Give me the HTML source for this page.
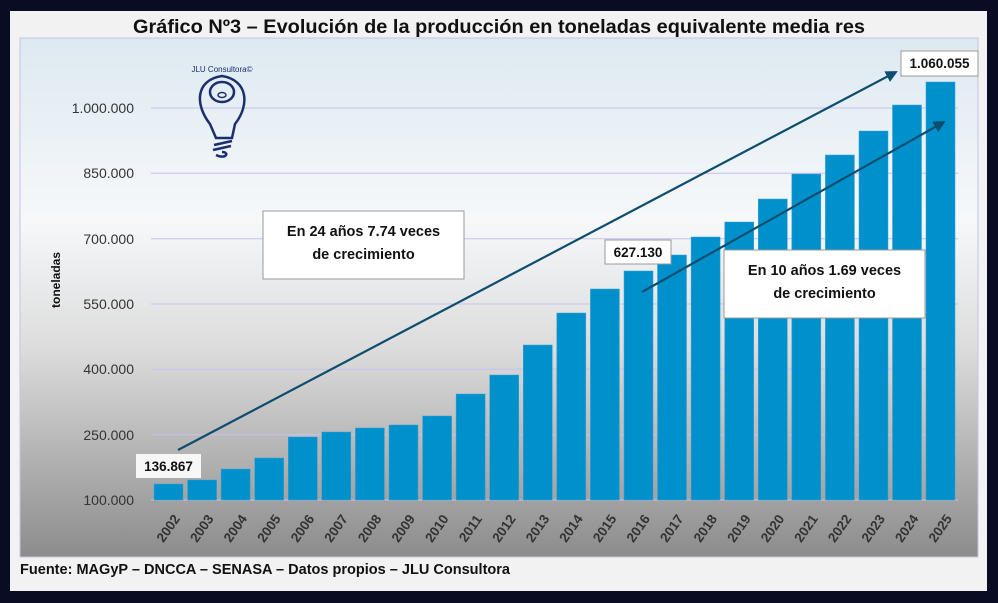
<!DOCTYPE html>
<html><head><meta charset="utf-8"><style>
html,body{margin:0;padding:0;background:#0a0c24;}
svg{display:block;font-family:"Liberation Sans",sans-serif;}
</style></head><body>
<svg width="998" height="603" viewBox="0 0 998 603" xmlns="http://www.w3.org/2000/svg">
<defs>
<linearGradient id="pg" x1="0" y1="0" x2="0" y2="1">
<stop offset="0" stop-color="#dde9f1"/>
<stop offset="0.35" stop-color="#f6f8fa"/>
<stop offset="0.6" stop-color="#dcdcdc"/>
<stop offset="1" stop-color="#8c8c8c"/>
</linearGradient>
<marker id="ah" markerWidth="12" markerHeight="12" refX="10" refY="6" orient="auto" markerUnits="userSpaceOnUse"><path d="M0,0 L12,6 L0,12 z" fill="#0d4d6e"/></marker>
</defs>
<rect x="0" y="0" width="998" height="603" fill="#0a0c24"/>
<rect x="10" y="11" width="977" height="580" fill="#f2f2f2"/>
<text x="499" y="33" text-anchor="middle" font-size="19.5" font-weight="bold" fill="#111" textLength="732" lengthAdjust="spacingAndGlyphs">Gráfico Nº3 – Evolución de la producción en toneladas equivalente media res</text>
<rect x="20" y="38" width="958" height="519" fill="url(#pg)" stroke="#c4c4e8" stroke-width="1"/>
<g stroke="#c8c0f0" stroke-width="1">
<line x1="151" y1="108" x2="958" y2="108"/>
<line x1="151" y1="173.3" x2="958" y2="173.3"/>
<line x1="151" y1="238.7" x2="958" y2="238.7"/>
<line x1="151" y1="304" x2="958" y2="304"/>
<line x1="151" y1="369.3" x2="958" y2="369.3"/>
<line x1="151" y1="434.7" x2="958" y2="434.7"/>
<line x1="151" y1="500" x2="958" y2="500"/>
</g>
<g font-size="14" fill="#333" text-anchor="end">
<text x="134" y="113">1.000.000</text>
<text x="134" y="178">850.000</text>
<text x="134" y="244">700.000</text>
<text x="134" y="309">550.000</text>
<text x="134" y="374">400.000</text>
<text x="134" y="440">250.000</text>
<text x="134" y="505">100.000</text>
</g>
<text transform="translate(60,280) rotate(-90)" text-anchor="middle" font-size="12" font-weight="bold" fill="#111">toneladas</text>
<g fill="#0091cd" stroke="#3a9fd0" stroke-width="0.5">
<rect x="154" y="484" width="29" height="16"/>
<rect x="187.6" y="480" width="29" height="20"/>
<rect x="221.1" y="469" width="29" height="31"/>
<rect x="254.7" y="458" width="29" height="42"/>
<rect x="288.3" y="437" width="29" height="63"/>
<rect x="321.8" y="432" width="29" height="68"/>
<rect x="355.4" y="428" width="29" height="72"/>
<rect x="389" y="425" width="29" height="75"/>
<rect x="422.6" y="416" width="29" height="84"/>
<rect x="456.1" y="394" width="29" height="106"/>
<rect x="489.7" y="375" width="29" height="125"/>
<rect x="523.3" y="345" width="29" height="155"/>
<rect x="556.8" y="313" width="29" height="187"/>
<rect x="590.4" y="289" width="29" height="211"/>
<rect x="624" y="271" width="29" height="229"/>
<rect x="657.5" y="255" width="29" height="245"/>
<rect x="691.1" y="237" width="29" height="263"/>
<rect x="724.7" y="222" width="29" height="278"/>
<rect x="758.3" y="199" width="29" height="301"/>
<rect x="791.8" y="174" width="29" height="326"/>
<rect x="825.4" y="155" width="29" height="345"/>
<rect x="859" y="131" width="29" height="369"/>
<rect x="892.5" y="105" width="29" height="395"/>
<rect x="926" y="82" width="29" height="418"/>
</g>
<g font-size="13.5" font-weight="bold" fill="#333">
<text transform="translate(172,531) rotate(-55)" text-anchor="middle">2002</text>
<text transform="translate(205.6,531) rotate(-55)" text-anchor="middle">2003</text>
<text transform="translate(239.1,531) rotate(-55)" text-anchor="middle">2004</text>
<text transform="translate(272.7,531) rotate(-55)" text-anchor="middle">2005</text>
<text transform="translate(306.3,531) rotate(-55)" text-anchor="middle">2006</text>
<text transform="translate(339.8,531) rotate(-55)" text-anchor="middle">2007</text>
<text transform="translate(373.4,531) rotate(-55)" text-anchor="middle">2008</text>
<text transform="translate(407,531) rotate(-55)" text-anchor="middle">2009</text>
<text transform="translate(440.6,531) rotate(-55)" text-anchor="middle">2010</text>
<text transform="translate(474.1,531) rotate(-55)" text-anchor="middle">2011</text>
<text transform="translate(507.7,531) rotate(-55)" text-anchor="middle">2012</text>
<text transform="translate(541.3,531) rotate(-55)" text-anchor="middle">2013</text>
<text transform="translate(574.8,531) rotate(-55)" text-anchor="middle">2014</text>
<text transform="translate(608.4,531) rotate(-55)" text-anchor="middle">2015</text>
<text transform="translate(642,531) rotate(-55)" text-anchor="middle">2016</text>
<text transform="translate(675.5,531) rotate(-55)" text-anchor="middle">2017</text>
<text transform="translate(709.1,531) rotate(-55)" text-anchor="middle">2018</text>
<text transform="translate(742.7,531) rotate(-55)" text-anchor="middle">2019</text>
<text transform="translate(776.3,531) rotate(-55)" text-anchor="middle">2020</text>
<text transform="translate(809.8,531) rotate(-55)" text-anchor="middle">2021</text>
<text transform="translate(843.4,531) rotate(-55)" text-anchor="middle">2022</text>
<text transform="translate(877,531) rotate(-55)" text-anchor="middle">2023</text>
<text transform="translate(910.5,531) rotate(-55)" text-anchor="middle">2024</text>
<text transform="translate(944,531) rotate(-55)" text-anchor="middle">2025</text>
</g>
<line x1="178" y1="450" x2="896" y2="72" stroke="#0d4d6e" stroke-width="2.2" marker-end="url(#ah)"/>
<line x1="642" y1="292" x2="944" y2="122" stroke="#0d4d6e" stroke-width="2.2" marker-end="url(#ah)"/>
<g font-size="13.5" font-weight="bold" fill="#111" text-anchor="middle">
<rect x="136" y="454" width="65" height="24" fill="#f7f7f7" stroke="none"/>
<text x="168.5" y="471">136.867</text>
<rect x="605" y="240" width="66" height="24" fill="#fff" stroke="#999"/>
<text x="638" y="257">627.130</text>
<rect x="901" y="51" width="77" height="25" fill="#fff" stroke="#999"/>
<text x="939.5" y="68">1.060.055</text>
</g>
<g font-size="14.5" font-weight="bold" fill="#111" text-anchor="middle">
<rect x="263" y="211" width="201" height="68" fill="#fff" stroke="#999"/>
<text x="363.5" y="236">En 24 años 7.74 veces</text>
<text x="363.5" y="259">de crecimiento</text>
<rect x="724" y="250" width="201" height="68" fill="#fff" stroke="#999"/>
<text x="824.5" y="275">En 10 años 1.69 veces</text>
<text x="824.5" y="298">de crecimiento</text>
</g>
<g fill="none" stroke="#1a2f6e" stroke-width="2.5">
<path d="M210,124 C195,105 195,80 222,76 C248,80 250,105 235,124 L232,138 L216,138 Z"/>
<ellipse cx="222" cy="92" rx="12" ry="10"/>
<ellipse cx="222" cy="95" rx="4" ry="2.5" stroke-width="1.5"/>
<path d="M214,145 L232,141 M213,150 L231,146 M216,155 C226,160 230,152 222,152"/>
</g>
<text x="222" y="72" text-anchor="middle" font-size="8" fill="#1a2f6e">JLU Consultora©</text>
<text x="20" y="574" font-size="14.5" font-weight="bold" fill="#111" textLength="490" lengthAdjust="spacingAndGlyphs">Fuente: MAGyP – DNCCA – SENASA – Datos propios – JLU Consultora</text>
</svg>
</body></html>
